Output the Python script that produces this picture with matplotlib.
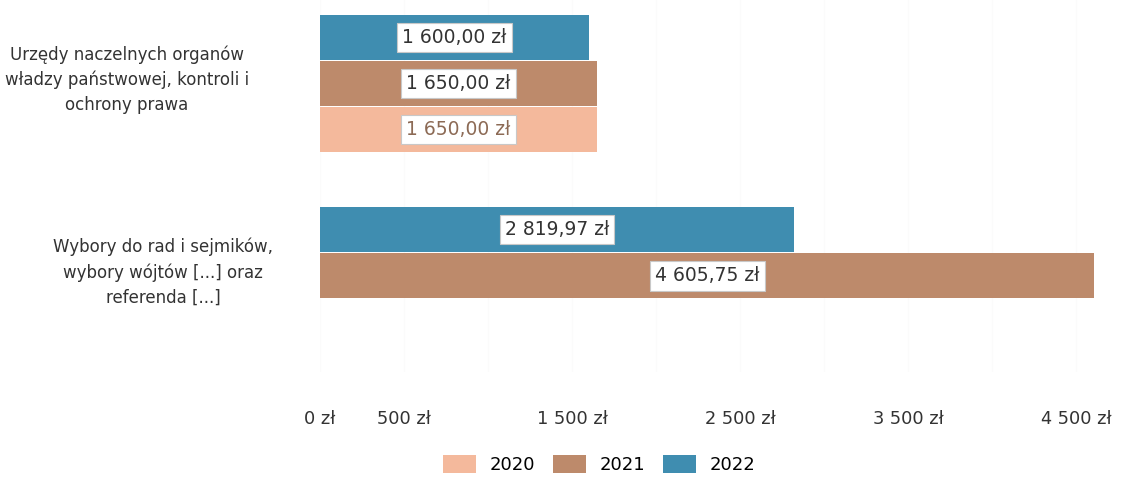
import numpy as np
import matplotlib
matplotlib.use("Agg")
import matplotlib.pyplot as plt
import matplotlib.transforms as mtransforms

# Data
categories = ["Urzędy naczelnych organów\nwładzy państwowej, kontroli i\nochrony prawa",
              "Wybory do rad i sejmików,\nwybory wójtów [...] oraz\nreferenda [...]"]
years = ["2020", "2021", "2022"]
values_2020 = [1650.00, None]
values_2021 = [1650.00, 4605.75]
values_2022 = [1600.00, 2819.97]
tick_values = [0, 500, 1500, 2500, 3500, 4500]
tick_labels = ["0 zł", "500 zł", "1 500 zł", "2 500 zł", "3 500 zł", "4 500 zł"]

colors = {"2020": "#f4b99c", "2021": "#bd8a6b", "2022": "#3f8db0"}
label_colors = {"2020": "#8c6a55", "2021": "#333333", "2022": "#333333"}
series = {"2020": values_2020, "2021": values_2021, "2022": values_2022}
# offset of each year's bar within a group (top to bottom: 2022, 2021, 2020)
offsets = {"2022": -0.24, "2021": 0.0, "2020": 0.24}
bar_h = 0.235

def fmt(v):
  s = "{:,.2f}".format(v).replace(",", " ").replace(".", ",")
  return s + " zł"

plt.rcParams['font.family'] = ['DejaVu Sans']
fig = plt.figure(figsize=(11.24, 4.79), dpi=100)
ax = fig.add_axes([320/1124, (479-372)/479, 790/1124, 372/479])

y = np.arange(len(categories))
handles = {}
for yr in years:
  for i, v in enumerate(series[yr]):
    if v is None:
      continue
    b = ax.barh(y[i] + offsets[yr], v, height=bar_h, color=colors[yr], label=yr)
    handles[yr] = b
    ax.text(v / 2, y[i] + offsets[yr], fmt(v), ha='center', va='center',
            fontsize=13.5, color=label_colors[yr],
            bbox=dict(boxstyle='square,pad=0.28', fc='white', ec='#c8c8c8', lw=0.8))

ax.set_xlim(0, 4700)
ax.set_ylim(1.5, -0.434)
ax.set_xticks(tick_values)
ax.set_xticklabels(tick_labels, fontsize=12.8, color='#333333')
ax.tick_params(axis='x', length=0, pad=27)
ax.set_yticks([])
for x in range(0, 5000, 500):
  ax.axvline(x, color='#fbfbfb', lw=0.8, zorder=0)
for s in ax.spines.values():
  s.set_visible(False)

# category labels
trans = mtransforms.blended_transform_factory(fig.transFigure, ax.transData)
label_x = [127/1124, 163/1124]
for i, c in enumerate(categories):
  ax.text(label_x[i], y[i] - 0.02, c, transform=trans, ha='center', va='center',
          fontsize=12, color='#333333', linespacing=1.5)

fig.legend([handles[yr] for yr in years], years, loc='center', ncol=3,
           bbox_to_anchor=(0.533, 0.03), frameon=False, fontsize=13,
           handlelength=1.85, handleheight=1.1, columnspacing=1.0, handletextpad=0.72)

fig.savefig("out.png", dpi=100, facecolor='white')
